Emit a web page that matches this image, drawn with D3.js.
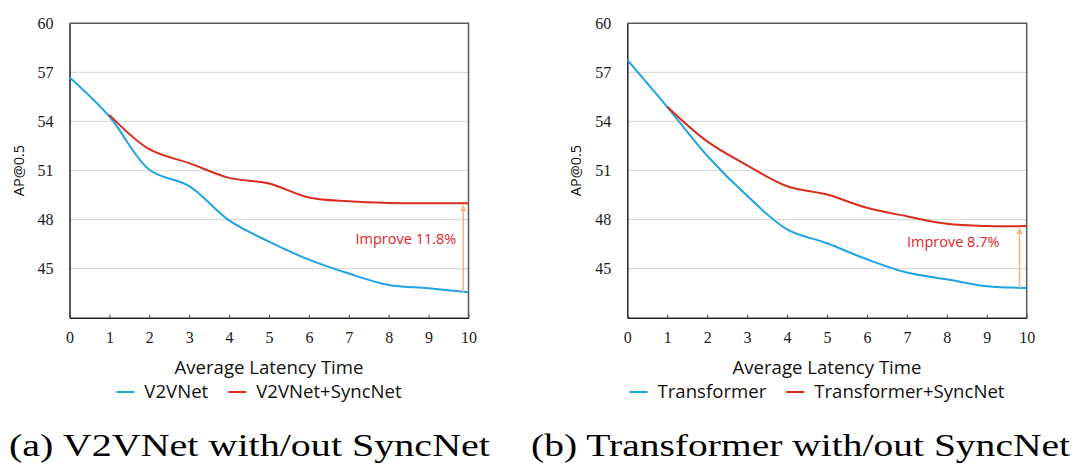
<!DOCTYPE html>
<html>
<head>
<meta charset="utf-8">
<script src="https://cdn.jsdelivr.net/npm/d3@7"></script>
<style>
  body { margin: 0; background: #fff; }
  svg { display: block; }
  .tick-label { font-family: "Liberation Serif", "Times New Roman", serif; font-size: 16px; fill: #1a1a1a; }
  .sans { font-family: "Open Sans", Lato, sans-serif; fill: #111; }
  .caption { font-family: "Liberation Serif", serif; font-size: 31px; fill: #000; }
</style>
</head>
<body>
<svg id="chart" width="1080" height="471"></svg>
<script>
// data
var latency = [0, 1, 2, 3, 4, 5, 6, 7, 8, 9, 10];
var yTicks = [45, 48, 51, 54, 57, 60];
var v2vnet = [56.7, 54.3, 51.05, 50.05, 47.95, 46.65, 45.55, 44.7, 44.0, 43.8, 43.55];
var v2vnetSync = [null, 54.4, 52.3, 51.45, 50.55, 50.2, 49.35, 49.12, 49.02, 49.0, 49.0];
var transformer = [57.76, 54.88, 51.9, 49.45, 47.4, 46.55, 45.57, 44.76, 44.35, 43.92, 43.82];
var transformerSync = [null, 54.9, 52.78, 51.32, 50.04, 49.53, 48.72, 48.2, 47.74, 47.6, 47.6];
var seriesNames = [["V2VNet", "V2VNet+SyncNet"], ["Transformer", "Transformer+SyncNet"]];
var improveText = ["Improve 11.8%", "Improve 8.7%"];
var captions = ["(a) V2VNet with/out SyncNet", "(b) Transformer with/out SyncNet"];

var BLUE = "#1fa3e6", RED = "#d82c1e", ARROW = "#f5b48a", IMPROVE = "#e3232b";

var svg = d3.select("#chart");

var panels = [
  { left: 69.5, right: 468.5, base: v2vnet, sync: v2vnetSync, names: seriesNames[0],
    improve: improveText[0], arrowX: 9.87, labelDx: -7, labelDy: -4,
    caption: captions[0], capX: 9, capW: 481 },
  { left: 627.3, right: 1026.7, base: transformer, sync: transformerSync, names: seriesNames[1],
    improve: improveText[1], arrowX: 9.82, labelDx: -20, labelDy: -10,
    caption: captions[1], capX: 531, capW: 539 }
];

function drawPanel(p){
  var g = svg.append("g");
  var x = d3.scaleLinear().domain([0, 10]).range([p.left, p.right]);
  var y = d3.scaleLinear().domain([42, 60]).range([317.7, 23.3]);

  // grid lines
  g.selectAll("line.grid").data(yTicks.filter(function(t){ return t < 60; }))
    .enter().append("line")
    .attr("x1", x(0)).attr("x2", x(10))
    .attr("y1", function(d){ return y(d); }).attr("y2", function(d){ return y(d); })
    .attr("stroke", "#dcdcdc").attr("stroke-width", 1.2);

  // frame: top and right
  g.append("path")
    .attr("d", "M" + x(0) + "," + y(60) + "H" + x(10) + "V" + y(42))
    .attr("fill", "none").attr("stroke", "#5a5a5a").attr("stroke-width", 1.5);

  // y axis
  var ya = g.append("g").attr("transform", "translate(" + x(0) + ",0)")
    .call(d3.axisLeft(y).tickValues(yTicks).tickSize(0).tickPadding(16));
  ya.select(".domain").attr("stroke", "#222").attr("stroke-width", 1.5);
  ya.selectAll("text").attr("class", "tick-label").attr("font-family", null).attr("font-size", null);

  // x axis with small inward ticks
  var xa = g.append("g").attr("transform", "translate(0," + y(42) + ")")
    .call(d3.axisBottom(x).tickValues(latency).tickSizeInner(-3).tickSizeOuter(0).tickPadding(14));
  xa.select(".domain").attr("stroke", "#222").attr("stroke-width", 1.5);
  xa.selectAll(".tick line").attr("stroke", "#444");
  xa.selectAll("text").attr("class", "tick-label").attr("font-family", null).attr("font-size", null);

  var line = d3.line()
    .defined(function(d){ return d != null; })
    .x(function(d, i){ return x(latency[i]); })
    .y(function(d){ return y(d); })
    .curve(d3.curveCatmullRom.alpha(0.5));

  g.append("path").datum(p.base).attr("d", line)
    .attr("fill", "none").attr("stroke", BLUE).attr("stroke-width", 2);
  g.append("path").datum(p.sync).attr("d", line)
    .attr("fill", "none").attr("stroke", RED).attr("stroke-width", 2);

  // improvement arrow
  var ax = x(p.arrowX);
  var yFrom = y(p.base[10]), yTo = y(p.sync[10]);
  g.append("line").attr("x1", ax).attr("x2", ax)
    .attr("y1", yFrom).attr("y2", yTo + 5)
    .attr("stroke", ARROW).attr("stroke-width", 1.6);
  g.append("path")
    .attr("d", "M" + ax + "," + (yTo + 1) + "L" + (ax - 3) + "," + (yTo + 8) + "L" + (ax + 3) + "," + (yTo + 8) + "Z")
    .attr("fill", ARROW);
  g.append("text").attr("class", "sans")
    .attr("x", ax + p.labelDx).attr("y", (yFrom + yTo) / 2 + p.labelDy)
    .attr("text-anchor", "end").attr("font-size", 14.5)
    .style("fill", IMPROVE).text(p.improve);

  // y title
  g.append("text").attr("class", "sans")
    .attr("transform", "translate(" + (x(0) - 46) + "," + y(51) + ") rotate(-90)")
    .attr("text-anchor", "middle").attr("font-size", 14.5).text("AP@0.5");

  // x title
  var cx = (p.left + p.right) / 2;
  g.append("text").attr("class", "sans")
    .attr("x", cx).attr("y", 374).attr("text-anchor", "middle")
    .attr("font-size", 18.6).text("Average Latency Time");

  // legend
  var lg = g.append("g");
  var colors = [BLUE, RED], pos = 0;
  p.names.forEach(function(name, i){
    var it = lg.append("g").attr("transform", "translate(" + pos + ",0)");
    it.append("line").attr("x1", 0).attr("x2", 18).attr("y1", 0).attr("y2", 0)
      .attr("stroke", colors[i]).attr("stroke-width", 2);
    var t = it.append("text").attr("class", "sans").attr("x", 28).attr("y", 6)
      .attr("font-size", 18.6).text(name);
    pos += 28 + t.node().getComputedTextLength() + 20;
  });
  var total = pos - 20;
  lg.attr("transform", "translate(" + (cx - 10 - total / 2) + ",392)");

  // caption
  g.append("text").attr("class", "caption")
    .attr("x", p.capX).attr("y", 456)
    .attr("textLength", p.capW).attr("lengthAdjust", "spacingAndGlyphs")
    .text(p.caption);
}

panels.forEach(drawPanel);
</script>
</body>
</html>
